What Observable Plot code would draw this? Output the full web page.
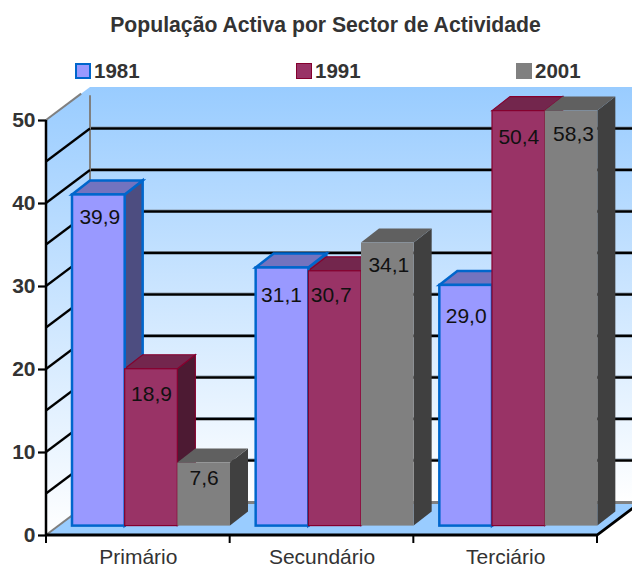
<!DOCTYPE html>
<html>
<head>
<meta charset="utf-8">
<script src="https://cdn.jsdelivr.net/npm/d3@7"></script>
<script src="https://cdn.jsdelivr.net/npm/@observablehq/plot@0.6"></script>
<style>
  html, body { margin: 0; padding: 0; background: #fff; overflow: hidden; }
  body { width: 632px; height: 567px; position: relative; font-family: "Liberation Sans", Arial, sans-serif; }
  #title { height: 50px; line-height: 50px; text-align: center; font-size: 21.2px; font-weight: bold; color: #333; padding-left: 19px; white-space: nowrap; }
  #legend { position: relative; height: 35px; }
  .item { position: absolute; top: 9px; height: 24px; line-height: 24px; font-size: 20.5px; font-weight: bold; color: #333; white-space: nowrap; }
  .item i { position: absolute; left: 0; top: 4px; width: 16px; height: 16px; box-sizing: border-box; }
  .item span { margin-left: 19px; }
  svg { display: block; }
</style>
</head>
<body>
<div id="title">População Activa por Sector de Actividade</div>
<div id="legend"></div>
<div id="chart"></div>
<script>
const sectors = ["Primário", "Secundário", "Terciário"];
const series = ["1981", "1991", "2001"];
const values1981 = [39.9, 31.1, 29.0];
const values1991 = [18.9, 30.7, 50.4];
const values2001 = [7.6, 34.1, 58.3];
const yTicks = [0, 10, 20, 30, 40, 50];
const gridValues = [5, 10, 15, 20, 25, 30, 35, 40, 45];

// Styling, per series
const fills = ["#9999FF", "#993366", "#808080"];
const strokes = ["#0066CC", "#85002E", "none"];
const strokeWidths = [2.5, 1.2, 0];
const topFills = ["#7373BF", "#73264D", "#606060"];
const sideFills = ["#4D4D80", "#4D1A33", "#404040"];
// Hand-placed label positions of the original chart (in axis units and px nudges)
const labelHeights = [[38.3, 17.0, 6.9], [29.0, 29.0, 32.5], [26.4, 48.0, 48.3]];
const labelNudges = [[1, 0, 0], [-1, -4, 1], [0, 0, 2]];

const valuesBySeries = [values1981, values1991, values2001];
const rows = sectors.flatMap((sector, i) => series.map((s, j) => ({
  sector, series: s, j, value: valuesBySeries[j][i],
  label: valuesBySeries[j][i].toFixed(1).replace(".", ","),
  labelY: labelHeights[i][j], nudge: labelNudges[i][j]
})));

const depthX = 44, depthY = 33;       // wall depth in px
const barDepthX = 18, barDepthY = 14; // bar depth in px
const barLift = 9.4;                  // bars stand forward of the axis plane

const pts = a => a.map(p => p.join(",")).join(" ");
// A function mark, repeated by Plot in each facet: it draws only in the first,
// whose origin is the frame's, from the plot's own scales.
const frameMark = draw => {
  let done = false;
  return (index, scales) => {
    const g = d3.create("svg:g");
    if (!done) {
      const x0 = scales.fx(sectors[0]);
      const x1 = scales.fx(sectors[sectors.length - 1]) + scales.fx.bandwidth();
      draw(g, scales, x0, x1);
    }
    done = true;
    return g.node();
  };
};

function walls(g, {y}, x0, x1) {
  const lg = g.append("defs").append("linearGradient").attr("id", "wallGrad").attr("x1", 0).attr("x2", 0).attr("y1", 0).attr("y2", 1);
  lg.append("stop").attr("offset", "0%").attr("stop-color", "#99CCFF");
  lg.append("stop").attr("offset", "100%").attr("stop-color", "#FFFFFF");
  const top = y(50), bot = y(0);
  g.append("polygon").attr("fill", "url(#wallGrad)")
    .attr("points", pts([[x0 + depthX, top - depthY], [x1 + depthX, top - depthY], [x1 + depthX, bot - depthY], [x0 + depthX, bot - depthY]]));
  g.append("polygon").attr("fill", "url(#wallGrad)")
    .attr("points", pts([[x0, top], [x0 + depthX, top - depthY], [x0 + depthX, bot - depthY], [x0, bot]]));
}

function floorAndEdges(g, {y}, x0, x1) {
  const top = y(50), bot = y(0);
  const line = (a, stroke, w) => g.append("polyline").attr("points", pts(a)).attr("fill", "none").attr("stroke", stroke).attr("stroke-width", w);
  for (const v of gridValues) {
    line([[x0 + depthX, y(v) - depthY - 1.5], [x1 + depthX, y(v) - depthY - 1.5]], "#8899AA", 1);
    line([[x0 + depthX, y(v) - depthY], [x1 + depthX, y(v) - depthY]], "#000", 2.5);
  }
  g.append("polygon").attr("fill", "#99CCFF")
    .attr("points", pts([[x0, bot], [x0 + depthX, bot - depthY], [x1 + depthX, bot - depthY], [x1, bot]]));
  line([[x0 + depthX, bot - depthY + 0.5], [x1 + depthX, bot - depthY + 0.5]], "#808080", 3);
  line([[x0, bot], [x0 + depthX, bot - depthY]], "#808080", 2);
  line([[x0, top], [x0 + depthX * 0.8, top - depthY * 0.8]], "#808080", 2);
  line([[x0 + depthX, top - depthY * 0.75], [x0 + depthX, bot - depthY]], "#808080", 2);
  for (const v of gridValues) line([[x0, y(v)], [x0 + depthX, y(v) - depthY]], "#000", 2.2);
}

function axesLines(g, {y, fx}, x0, x1) {
  const top = y(50), bot = y(0);
  const line = (a, w) => g.append("polyline").attr("points", pts(a)).attr("fill", "none").attr("stroke", "#000").attr("stroke-width", w);
  line([[x0, top], [x0, bot]], 2.5);
  line([[x0 - 1, bot], [x1, bot], [x1 + depthX, bot - depthY]], 2.8);
  for (const s of sectors) line([[fx(s), bot], [fx(s), bot + 8]], 2);
  line([[x1, bot], [x1, bot + 8]], 2);
}

function withDepth(index, scales, values, dimensions, context, next) {
  const node = next(index, scales, values, dimensions, context);
  const bw = scales.x.bandwidth();
  const first = node.firstChild;
  for (const i of index) {
    const j = rows[i].j;
    const x = values.x[i], yTop = Math.min(values.y1[i], values.y2[i]), yBot = Math.max(values.y1[i], values.y2[i]);
    const add = (a, fill) => {
      const p = d3.create("svg:polygon").attr("points", pts(a)).attr("fill", fill);
      if (strokes[j] !== "none") p.attr("stroke", strokes[j]).attr("stroke-width", strokeWidths[j]);
      node.insertBefore(p.node(), first);
    };
    add([[x + bw, yTop], [x + bw + barDepthX, yTop - barDepthY], [x + bw + barDepthX, yBot - barDepthY], [x + bw, yBot]], sideFills[j]);
    add([[x, yTop], [x + barDepthX, yTop - barDepthY], [x + bw + barDepthX, yTop - barDepthY], [x + bw, yTop]], topFills[j]);
  }
  return node;
}

const legendX = [75, 296, 516];
const legend = d3.select("#legend");
series.forEach((s, j) => {
  const item = legend.append("div").attr("class", "item").style("left", legendX[j] + "px");
  item.append("i").style("background", fills[j])
    .style("border", strokes[j] === "none" ? "none" : `${j === 0 ? 2.5 : 1}px solid ${strokes[j]}`);
  item.append("span").text(s);
});

const chart = Plot.plot({
  width: 632,
  height: 482,
  marginTop: 35,
  marginBottom: 32,
  marginLeft: 46,
  marginRight: 35,
  style: {fontFamily: "'Liberation Sans', Arial, sans-serif", background: "transparent", overflow: "hidden"},
  fx: {domain: sectors, padding: 0, round: false, label: null, axis: null},
  x: {domain: series, range: [72, 230], padding: 0, round: false, axis: null, label: null},
  y: {domain: [0, 50], clamp: true, label: null, axis: null},
  color: {domain: series, range: fills},
  marks: [
    frameMark(walls),
    frameMark(floorAndEdges),
    frameMark(axesLines),
    Plot.axisY({
      ticks: yTicks, tickSize: 8, tickPadding: 3, label: null, stroke: "#000", strokeWidth: 2.2,
      fill: "#333", fontSize: 21, fontWeight: "bold"
    }),
    Plot.axisFx({
      domain: sectors, anchor: "bottom", tickSize: 0, tickPadding: 14, label: null, fontSize: 21, fill: "#333"
    }),
    Plot.barY(rows, {
      fx: "sector", x: "series", y: "value", fill: "series",
      stroke: {value: d => strokes[d.j], scale: null},
      strokeWidth: d => strokeWidths[d.j],
      dy: -barLift,
      render: withDepth
    }),
    ...rows.map(r => Plot.text([r], {
      fx: "sector", x: "series", y: "labelY", text: "label",
      dx: r.nudge, fontSize: 21, fill: "#111"
    }))
  ]
});
document.getElementById("chart").appendChild(chart);
</script>
</body>
</html>
